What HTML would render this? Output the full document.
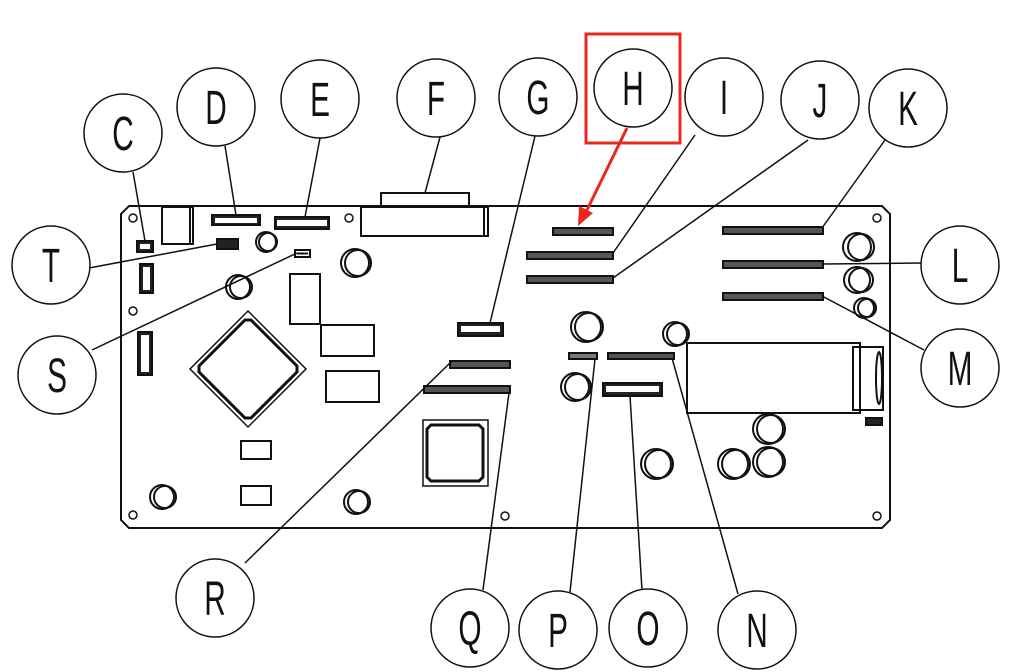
<!DOCTYPE html>
<html><head><meta charset="utf-8"><style>
html,body{margin:0;padding:0;background:#fff;}
svg{display:block;}
text{font-family:"Liberation Sans",sans-serif;font-size:48px;fill:#111;}
</style></head><body>
<svg width="1019" height="672" viewBox="0 0 1019 672" xmlns="http://www.w3.org/2000/svg">
<g fill="none" stroke="#111" stroke-width="2">
<!-- board -->
<path d="M129,206 L882,206 L890,214 L890,520 L882,528 L129,528 L121,520 L121,214 Z"/>
<g stroke-width="1.5">
<circle cx="133" cy="218" r="4"/><circle cx="349" cy="218" r="4"/><circle cx="877" cy="218" r="4"/>
<circle cx="133" cy="311" r="4"/><circle cx="133" cy="515" r="4"/><circle cx="505" cy="516" r="4"/><circle cx="877" cy="516" r="4"/>
</g>
<!-- left components -->
<rect x="137" y="241" width="16" height="11" fill="#222"/>
<rect x="140" y="244" width="10" height="5" fill="#fff" stroke="none"/>
<rect x="162" y="207" width="31" height="37"/><line x1="190" y1="207" x2="190" y2="244"/>
<rect x="212" y="215" width="48" height="10" fill="#222"/><rect x="215" y="218" width="42" height="5" fill="#fff" stroke="none"/>
<rect x="275" y="217" width="54" height="12" fill="#222"/><rect x="277" y="220" width="50" height="6" fill="#fff" stroke="none"/>
<rect x="381" y="193" width="88" height="14"/>
<rect x="361" y="207" width="127" height="29"/><line x1="484" y1="207" x2="484" y2="236"/>
<rect x="217" y="239" width="21" height="10" fill="#222"/>
<circle cx="266" cy="242" r="10"/><circle cx="268" cy="242" r="9"/>
<rect x="295" y="250" width="15" height="7"/><line x1="297" y1="253.5" x2="308" y2="253.5"/>
<circle cx="355" cy="263" r="14"/><circle cx="358" cy="263" r="13"/>
<rect x="140" y="264" width="13" height="29" fill="#222"/><rect x="143" y="267" width="7" height="23" fill="#fff" stroke="none"/>
<circle cx="238" cy="287" r="12"/><circle cx="241" cy="287" r="11"/>
<rect x="290" y="274" width="30" height="50"/>
<rect x="321" y="325" width="53" height="31"/>
<rect x="326" y="371" width="53" height="31"/>
<path d="M248,311 L306,369 L248,427 L190,369 Z" stroke-width="1.5"/>
<path d="M245,320 L251,320 L297,366 L297,372 L251,418 L245,418 L199,372 L199,366 Z" stroke-width="3"/>
<rect x="138" y="332" width="14" height="43" fill="#222"/><rect x="141" y="335" width="8" height="37" fill="#fff" stroke="none"/>
<rect x="458" y="323" width="45" height="13" fill="#222"/><rect x="461" y="326" width="39" height="6" fill="#fff" stroke="none"/>
<rect x="450" y="361" width="60" height="7" fill="#555"/>
<rect x="424" y="386" width="86" height="7" fill="#555"/>
<rect x="423" y="420" width="65" height="66" stroke-width="1.5"/>
<path d="M431,425 L479,425 L483,429 L483,477 L479,481 L431,481 L427,477 L427,429 Z" stroke-width="3"/>
<rect x="241" y="441" width="30" height="18"/>
<rect x="241" y="486" width="30" height="19"/>
<circle cx="162" cy="497" r="12"/><circle cx="165" cy="497" r="11"/>
<circle cx="356" cy="502" r="12"/><circle cx="359" cy="502" r="11"/>
<!-- right components -->
<rect x="553" y="228" width="60" height="7" fill="#555"/>
<rect x="527" y="252" width="86" height="7" fill="#555"/>
<rect x="527" y="276" width="86" height="7" fill="#555"/>
<rect x="723" y="227" width="100" height="7" fill="#555"/>
<rect x="723" y="261" width="100" height="7" fill="#555"/>
<rect x="723" y="293" width="100" height="7" fill="#555"/>
<circle cx="857" cy="247" r="14"/><circle cx="861" cy="247" r="13"/>
<circle cx="857" cy="280" r="13"/><circle cx="861" cy="280" r="12"/>
<circle cx="864" cy="308" r="10"/><circle cx="867" cy="308" r="9"/>
<circle cx="586" cy="327" r="15"/><circle cx="589" cy="327" r="14"/>
<circle cx="675" cy="334" r="12"/><circle cx="678" cy="334" r="11"/>
<rect x="569" y="353" width="28" height="6" fill="#777"/>
<rect x="608" y="353" width="66" height="6" fill="#555"/>
<circle cx="575" cy="387" r="14"/><circle cx="578" cy="387" r="13"/>
<rect x="603" y="383" width="59" height="13" fill="#222"/><rect x="606" y="386" width="53" height="6" fill="#fff" stroke="none"/>
<rect x="687" y="343" width="173" height="70"/>
<rect x="853" y="347" width="30" height="63"/><ellipse cx="879" cy="378" rx="3" ry="26"/>
<rect x="866" y="418" width="16" height="7" fill="#222"/>
<circle cx="768" cy="429" r="15"/><circle cx="771" cy="429" r="14"/>
<circle cx="656" cy="464" r="15"/><circle cx="659" cy="464" r="14"/>
<circle cx="733" cy="464" r="15"/><circle cx="736" cy="464" r="14"/>
<circle cx="768" cy="462" r="15"/><circle cx="771" cy="462" r="14"/>
</g>
<!-- leaders -->
<g stroke="#111" stroke-width="1.5">
<line x1="133" y1="172" x2="145" y2="241"/>
<line x1="225" y1="146" x2="236" y2="215"/>
<line x1="320" y1="138" x2="305" y2="217"/>
<line x1="440" y1="137" x2="425" y2="193"/>
<line x1="535" y1="136" x2="490" y2="323"/>
<line x1="695" y1="135" x2="613" y2="253"/>
<line x1="808" y1="140" x2="613" y2="278"/>
<line x1="885" y1="140" x2="822" y2="228"/>
<line x1="922" y1="263" x2="823" y2="264"/>
<line x1="924" y1="350" x2="822" y2="296"/>
<line x1="738" y1="594" x2="672" y2="358"/>
<line x1="642" y1="590" x2="630" y2="396"/>
<line x1="570" y1="592" x2="595" y2="359"/>
<line x1="483" y1="590" x2="509" y2="393"/>
<line x1="245" y1="563" x2="452" y2="361"/>
<line x1="92" y1="350" x2="297" y2="253"/>
<line x1="89" y1="268" x2="217" y2="244"/>
</g>
<!-- H highlight -->
<rect x="586" y="34" width="94" height="109" fill="none" stroke="#e8281e" stroke-width="3"/>
<line x1="627" y1="128" x2="586" y2="212" stroke="#e8281e" stroke-width="3"/>
<path d="M578,226 L579,206 L593,213 Z" fill="#e8281e"/>
<!-- circles -->
<g fill="#fff" stroke="#111" stroke-width="1.5">
<circle cx="123" cy="133" r="39"/>
<circle cx="216" cy="107" r="39"/>
<circle cx="320" cy="99" r="39"/>
<circle cx="436" cy="98" r="39"/>
<circle cx="538" cy="97" r="39"/>
<circle cx="633" cy="88" r="39"/>
<circle cx="724" cy="97" r="39"/>
<circle cx="820" cy="100" r="39"/>
<circle cx="908" cy="108" r="39"/>
<circle cx="960" cy="265" r="39"/>
<circle cx="960" cy="368" r="39"/>
<circle cx="51" cy="265" r="39"/>
<circle cx="57" cy="375" r="39"/>
<circle cx="215" cy="598" r="39"/>
<circle cx="470" cy="628" r="39"/>
<circle cx="558" cy="630" r="39"/>
<circle cx="648" cy="628" r="39"/>
<circle cx="757" cy="630" r="39"/>
</g>
<g text-anchor="middle">
<text transform="translate(123,150) scale(0.62,1)">C</text>
<text transform="translate(216,124) scale(0.62,1)">D</text>
<text transform="translate(320,116) scale(0.62,1)">E</text>
<text transform="translate(436,115) scale(0.62,1)">F</text>
<text transform="translate(538,114) scale(0.62,1)">G</text>
<text transform="translate(633,105) scale(0.62,1)">H</text>
<text transform="translate(724,114) scale(0.62,1)">I</text>
<text transform="translate(820,117) scale(0.62,1)">J</text>
<text transform="translate(908,125) scale(0.62,1)">K</text>
<text transform="translate(960,282) scale(0.62,1)">L</text>
<text transform="translate(960,385) scale(0.62,1)">M</text>
<text transform="translate(51,282) scale(0.62,1)">T</text>
<text transform="translate(57,392) scale(0.62,1)">S</text>
<text transform="translate(215,615) scale(0.62,1)">R</text>
<text transform="translate(470,645) scale(0.62,1)">Q</text>
<text transform="translate(558,647) scale(0.62,1)">P</text>
<text transform="translate(648,645) scale(0.62,1)">O</text>
<text transform="translate(757,647) scale(0.62,1)">N</text>
</g>
</svg>
</body></html>
